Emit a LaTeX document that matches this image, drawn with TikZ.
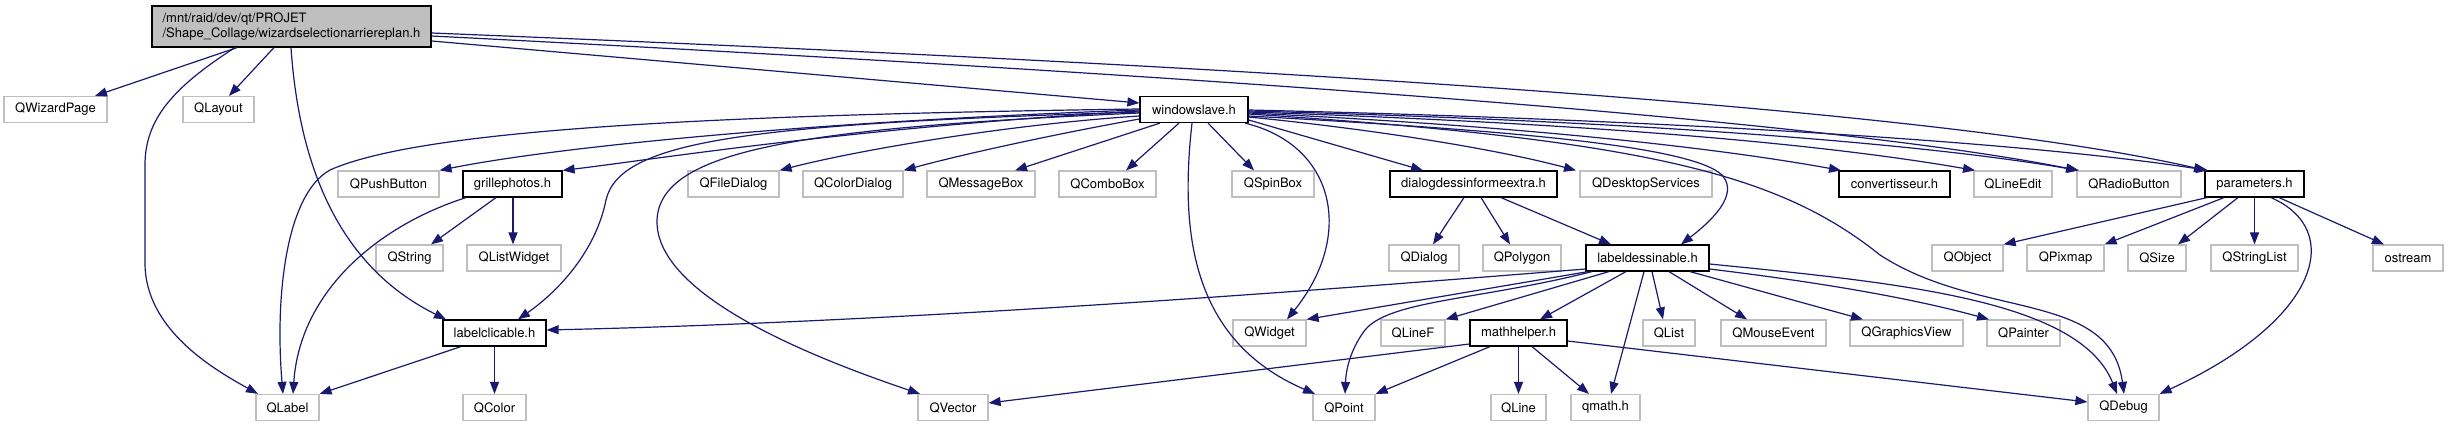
\documentclass[tikz,border=0pt]{standalone}
\usepackage{fontspec}
\setmainfont{TeX Gyre Heros}
\usetikzlibrary{arrows.meta}
\definecolor{edgec}{RGB}{25,25,112}
\definecolor{extgray}{RGB}{191,191,191}
\definecolor{rootfill}{RGB}{191,191,191}
\begin{document}
\begin{tikzpicture}[x=1pt,y=-1pt,
  base/.style={inner sep=0pt, minimum height=26pt, font=\fontsize{13}{15}\selectfont},
  ext/.style={base, draw=extgray, line width=1.2pt},
  doc/.style={base, draw=black, line width=1.2pt},
  e/.style={draw=edgec, line width=1.2pt, -{Triangle[length=12pt,width=9pt]}}]
\useasboundingbox (0,0) rectangle (2448,427);
% row 0
\node[doc, fill=rootfill, minimum width=279pt, minimum height=41pt, align=left] (root) at (291.5,26.5) {/mnt/raid/dev/qt/PROJET\\/Shape\_Collage/wizardselectionarriereplan.h};
% row 1
\node[ext, minimum width=103pt] (qwp) at (55.5,109.5) {QWizardPage};
\node[ext, minimum width=71pt] (qlay) at (218.5,109.5) {QLayout};
\node[doc, minimum width=108pt] (wsl) at (1194,109.5) {windowslave.h};
% row 2
\node[ext, minimum width=101pt] (qpb) at (388.5,184) {QPushButton};
\node[doc, minimum width=99pt] (grl) at (512.5,184) {grillephotos.h};
\node[ext, minimum width=91pt] (qfd) at (733.5,184) {QFileDialog};
\node[ext, minimum width=100pt] (qcd) at (853,184) {QColorDialog};
\node[ext, minimum width=108pt] (qmb) at (981,184) {QMessageBox};
\node[ext, minimum width=97pt] (qcb) at (1107.5,184) {QComboBox};
\node[ext, minimum width=82pt] (qsb) at (1273,184) {QSpinBox};
\node[doc, minimum width=167pt] (dde) at (1473.5,184) {dialogdessinformeextra.h};
\node[ext, minimum width=132pt] (qds) at (1646,184) {QDesktopServices};
\node[doc, minimum width=111pt] (cvt) at (1894.5,184) {convertisseur.h};
\node[ext, minimum width=78pt] (qle) at (2013,184) {QLineEdit};
\node[ext, minimum width=104pt] (qrb) at (2129,184) {QRadioButton};
\node[doc, minimum width=99pt] (par) at (2254.5,184) {parameters.h};
% row 3
\node[ext, minimum width=67pt] (qstr) at (409.5,258) {QString};
\node[ext, minimum width=94pt] (qlw) at (514,258) {QListWidget};
\node[ext, minimum width=70pt] (qdlg) at (1424,258) {QDialog};
\node[ext, minimum width=78pt] (qpoly) at (1522,258) {QPolygon};
\node[doc, minimum width=123pt] (lds) at (1647.5,258) {labeldessinable.h};
\node[ext, minimum width=71pt] (qobj) at (1967.5,258) {QObject};
\node[ext, minimum width=77pt] (qpix) at (2065.5,258) {QPixmap};
\node[ext, minimum width=58pt] (qsize) at (2157,258) {QSize};
\node[ext, minimum width=87pt] (qsl) at (2254.5,258) {QStringList};
\node[ext, minimum width=70pt] (ost) at (2408,258) {ostream};
% row 4
\node[doc, minimum width=103pt] (lcl) at (494.5,333) {labelclicable.h};
\node[ext, minimum width=73pt] (qwid) at (1269.5,333) {QWidget};
\node[ext, minimum width=64pt] (qlf) at (1413,333) {QLineF};
\node[doc, minimum width=97pt] (mth) at (1518.5,333) {mathhelper.h};
\node[ext, minimum width=52pt] (qlist) at (1669,333) {QList};
\node[ext, minimum width=105pt] (qme) at (1773.5,333) {QMouseEvent};
\node[ext, minimum width=113pt] (qgv) at (1906.5,333) {QGraphicsView};
\node[ext, minimum width=73pt] (qpnt) at (2023.5,333) {QPainter};
% row 5
\node[ext, minimum width=63pt] (qlab) at (287.5,407.5) {QLabel};
\node[ext, minimum width=63pt] (qcol) at (494.5,407.5) {QColor};
\node[ext, minimum width=70pt] (qvec) at (953,407.5) {QVector};
\node[ext, minimum width=62pt] (qpt) at (1344,407.5) {QPoint};
\node[ext, minimum width=55pt] (qline) at (1518.5,407.5) {QLine};
\node[ext, minimum width=69pt] (qmath) at (1605.5,407.5) {qmath.h};
\node[ext, minimum width=71pt] (qdbg) at (2123.5,407.5) {QDebug};

% root edges
\draw[e] (root.south -| 237,0) -- (qwp.north -| 95,0);
\draw[e] (root.south -| 274,0) -- (qlay.north -| 229,0);
\draw[e] (root.south -| 235,0) .. controls (172,88) and (145,120) .. (145,165) -- (145,263) .. controls (145,330) and (215,370) .. (qlab.north -| 258,0);
\draw[e] (root.south -| 291,0) .. controls (298,150) and (330,262) .. (lcl.north -| 446,0);
\draw[e] (root.east |- 0,41) -- (wsl.west |- 0,103);
\draw[e] (root.east |- 0,33) .. controls (1100,60) and (1900,100) .. (par.north -| 2206,0);
\draw[e] (root.east |- 0,36) .. controls (1100,70) and (1800,115) .. (qrb.north -| 2078,0);

% windowslave edges
\draw[e] (wsl.west |- 0,109) .. controls (700,115) and (420,130) .. (330,170) .. controls (285,195) and (275,300) .. (qlab.north -| 283,0);
\draw[e] (wsl.west |- 0,112) .. controls (750,124) and (620,140) .. (606,200) .. controls (596,250) and (560,290) .. (lcl.north -| 518,0);
\draw[e] (wsl.west |- 0,113) .. controls (800,128) and (660,150) .. (657,220) .. controls (655,290) and (790,350) .. (qvec.north -| 920,0);
\draw[e] (wsl.west |- 0,110) .. controls (800,122) and (550,148) .. (qpb.north east);
\draw[e] (wsl.west |- 0,111) .. controls (850,128) and (650,160) .. (grl.north east);
\draw[e] (wsl.west |- 0,116) .. controls (1000,125) and (850,152) .. (qfd.north east);
\draw[e] (wsl.west |- 0,119) .. controls (1050,135) and (960,155) .. (qcd.north east);
\draw[e] (wsl.south -| 1160,0) -- (qmb.north -| 1015,0);
\draw[e] (wsl.south -| 1179,0) -- (qcb.north -| 1126,0);
\draw[e] (wsl.south -| 1208,0) -- (qsb.north -| 1254,0);
\draw[e] (wsl.south -| 1192,0) .. controls (1180,230) and (1190,340) .. (qpt.north -| 1315,0);
\draw[e] (wsl.south -| 1245,0) .. controls (1335,145) and (1355,235) .. (qwid.north -| 1287,0);
\draw[e] (wsl.east |- 0,120) -- (dde.north -| 1423,0);
\draw[e] (wsl.east |- 0,117) .. controls (1380,130) and (1500,150) .. (qds.north -| 1576,0);
\draw[e] (wsl.east |- 0,116) .. controls (1500,130) and (1690,145) .. (1722,175) .. controls (1740,195) and (1710,222) .. (lds.north -| 1681,0);
\draw[e] (wsl.east |- 0,114) .. controls (1650,140) and (1780,175) .. (1880,255) .. controls (1980,320) and (2110,290) .. (qdbg.north -| 2124,0);
\draw[e] (wsl.east |- 0,113) .. controls (1500,125) and (1700,145) .. (cvt.north -| 1841,0);
\draw[e] (wsl.east |- 0,112) .. controls (1550,122) and (1800,140) .. (qle.north -| 1975,0);
\draw[e] (wsl.east |- 0,111) .. controls (1600,120) and (1900,140) .. (qrb.north -| 2079,0);
\draw[e] (wsl.east |- 0,110) .. controls (1600,118) and (2000,138) .. (par.north -| 2208,0);

% grillephotos edges
\draw[e] (grl.south -| 466,0) .. controls (380,225) and (300,290) .. (qlab.north -| 293,0);
\draw[e] (grl.south -| 496,0) -- (qstr.north -| 431,0);
\draw[e] (grl.south -| 513,0) -- (qlw.north -| 513,0);

% labelclicable edges
\draw[e] (lcl.south -| 461,0) -- (qlab.north east);
\draw[e] (lcl.south) -- (qcol.north);

% dialogdessinformeextra edges
\draw[e] (dde.south -| 1464,0) -- (qdlg.north -| 1433,0);
\draw[e] (dde.south -| 1481,0) -- (qpoly.north -| 1510,0);
\draw[e] (dde.south -| 1501,0) -- (lds.north -| 1611,0);

% labeldessinable edges
\draw[e] (lds.west |- 0,269) .. controls (1300,292) and (900,322) .. (lcl.east |- 0,330);
\draw[e] (lds.south -| 1588,0) -- (qwid.north east);
\draw[e] (lds.south -| 1592,0) .. controls (1480,300) and (1390,300) .. (1365,330) .. controls (1350,350) and (1346,370) .. (qpt.north -| 1345,0);
\draw[e] (lds.south -| 1609,0) -- (qlf.north east);
\draw[e] (lds.south -| 1626,0) -- (mth.north -| 1540,0);
\draw[e] (lds.south -| 1644,0) -- (qmath.north -| 1611,0);
\draw[e] (lds.south -| 1652,0) -- (qlist.north -| 1663,0);
\draw[e] (lds.south -| 1669,0) -- (qme.north -| 1747,0);
\draw[e] (lds.south -| 1690,0) -- (qgv.north -| 1863,0);
\draw[e] (lds.east |- 0,269) .. controls (1800,280) and (1900,295) .. (qpnt.north -| 1989,0);
\draw[e] (lds.east |- 0,264) .. controls (1900,283) and (2080,300) .. (qdbg.north -| 2117,0);

% mathhelper edges
\draw[e] (mth.west |- 0,344) -- (qvec.east |- 0,403);
\draw[e] (mth.south -| 1490,0) -- (qpt.north east);
\draw[e] (mth.south) -- (qline.north);
\draw[e] (mth.south -| 1532,0) -- (qmath.north -| 1589,0);
\draw[e] (mth.east |- 0,341) -- (qdbg.west |- 0,402);

% parameters edges
\draw[e] (par.south -| 2207,0) -- (qobj.north east);
\draw[e] (par.south -| 2224,0) -- (qpix.north east);
\draw[e] (par.south -| 2238,0) -- (qsize.north -| 2178,0);
\draw[e] (par.south) -- (qsl.north);
\draw[e] (par.south -| 2271,0) .. controls (2345,230) and (2320,320) .. (qdbg.north east);
\draw[e] (par.south -| 2279,0) -- (ost.north -| 2384,0);
\end{tikzpicture}
\end{document}
